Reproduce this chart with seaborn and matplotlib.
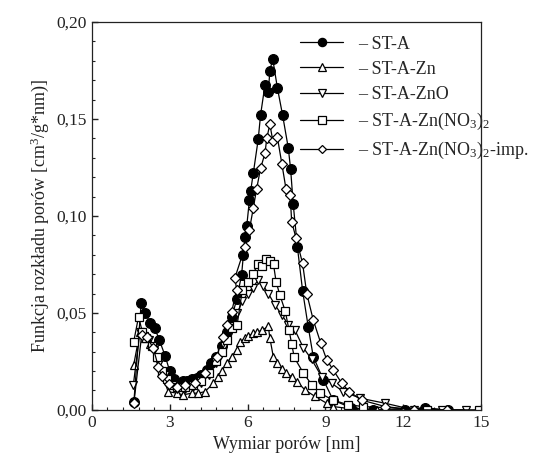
import matplotlib
matplotlib.use("Agg")
import matplotlib.pyplot as plt
import matplotlib.ticker as mticker
import seaborn as sns
import pandas as pd

# ---- data ----
sta_x = [1.62, 1.9, 2.06, 2.24, 2.43, 2.6, 2.82, 3.0, 3.15, 3.32, 3.5, 3.66, 3.85, 4.04, 4.22, 4.42, 4.6, 4.78, 5.0, 5.2, 5.4, 5.58, 5.77, 5.84, 5.9, 5.97, 6.07, 6.12, 6.22, 6.41, 6.5, 6.67, 6.8, 6.86, 6.97, 7.15, 7.35, 7.57, 7.66, 7.76, 7.92, 8.12, 8.34, 8.53, 8.92, 9.3, 10.0, 10.85, 12.07, 12.84, 13.73]
sta_y = [0.004, 0.055, 0.050, 0.045, 0.042, 0.036, 0.028, 0.020, 0.016, 0.014, 0.015, 0.015, 0.016, 0.0165, 0.018, 0.0206, 0.024, 0.0275, 0.033, 0.040, 0.048, 0.057, 0.0696, 0.080, 0.089, 0.095, 0.108, 0.113, 0.122, 0.1395, 0.152, 0.1675, 0.164, 0.175, 0.181, 0.166, 0.152, 0.135, 0.124, 0.106, 0.084, 0.0615, 0.0426, 0.0275, 0.0155, 0.005, 0.001, 0.0, 0.0, 0.001, 0.0]

zn_x = [1.61, 1.85, 2.05, 2.24, 2.5, 2.69, 2.94, 3.27, 3.52, 3.84, 4.1, 4.36, 4.68, 4.87, 5.0, 5.19, 5.39, 5.58, 5.71, 5.9, 6.03, 6.22, 6.35, 6.54, 6.8, 6.86, 6.99, 7.12, 7.32, 7.5, 7.7, 7.9, 8.21, 8.6, 9.05, 9.3, 10.0, 11.0, 12.0]
zn_y = [0.023, 0.040, 0.037, 0.034, 0.0275, 0.019, 0.0094, 0.0086, 0.0077, 0.0086, 0.0086, 0.0094, 0.0137, 0.017, 0.020, 0.024, 0.0275, 0.031, 0.035, 0.037, 0.038, 0.0395, 0.040, 0.041, 0.043, 0.037, 0.0275, 0.024, 0.021, 0.019, 0.017, 0.0146, 0.0103, 0.0069, 0.0034, 0.0017, 0.0005, 0.0, 0.0]

zno_x = [1.6, 1.85, 2.0, 2.2, 2.4, 2.6, 2.8, 3.0, 3.3, 3.6, 3.9, 4.2, 4.5, 4.8, 5.1, 5.4, 5.6, 5.8, 6.0, 6.2, 6.41, 6.61, 6.8, 7.06, 7.32, 7.57, 7.83, 8.15, 8.47, 8.86, 9.24, 9.69, 10.34, 11.3, 12.4, 13.5, 14.4]
zno_y = [0.013, 0.040, 0.038, 0.036, 0.031, 0.024, 0.018, 0.013, 0.011, 0.011, 0.012, 0.014, 0.018, 0.024, 0.033, 0.043, 0.050, 0.056, 0.060, 0.063, 0.067, 0.064, 0.060, 0.054, 0.049, 0.044, 0.041, 0.032, 0.026, 0.017, 0.0137, 0.0094, 0.006, 0.0034, 0.0, 0.0, 0.0]

no3_x = [1.61, 1.8, 1.95, 2.1, 2.3, 2.5, 2.7, 2.9, 3.1, 3.3, 3.6, 3.9, 4.2, 4.5, 4.8, 5.0, 5.2, 5.4, 5.6, 5.8, 6.0, 6.2, 6.4, 6.55, 6.7, 6.85, 7.0, 7.1, 7.25, 7.45, 7.6, 7.7, 7.8, 8.15, 8.47, 8.79, 9.3, 9.88, 10.46, 12.9, 14.9]
no3_y = [0.035, 0.048, 0.040, 0.037, 0.033, 0.027, 0.020, 0.016, 0.013, 0.012, 0.012, 0.013, 0.015, 0.019, 0.025, 0.030, 0.036, 0.042, 0.044, 0.062, 0.066, 0.070, 0.075, 0.074, 0.078, 0.077, 0.075, 0.066, 0.059, 0.051, 0.041, 0.034, 0.027, 0.019, 0.013, 0.0086, 0.005, 0.0026, 0.0017, 0.0, 0.0]

imp_x = [1.62, 1.92, 2.11, 2.37, 2.56, 2.69, 2.98, 3.27, 3.59, 3.97, 4.36, 4.81, 5.06, 5.19, 5.39, 5.58, 5.51, 5.9, 6.07, 6.22, 6.35, 6.5, 6.67, 6.74, 6.86, 6.97, 7.15, 7.32, 7.48, 7.64, 7.7, 7.87, 8.12, 8.28, 8.53, 8.82, 9.05, 9.3, 9.63, 9.92, 10.4, 11.3, 12.4, 13.68]
imp_y = [0.0035, 0.0387, 0.0378, 0.0318, 0.0223, 0.0172, 0.0134, 0.012, 0.0129, 0.0137, 0.019, 0.0275, 0.0378, 0.0438, 0.0507, 0.062, 0.068, 0.084, 0.0928, 0.104, 0.114, 0.1245, 0.1323, 0.140, 0.1474, 0.1389, 0.1405, 0.127, 0.114, 0.111, 0.097, 0.0885, 0.0756, 0.060, 0.0464, 0.0344, 0.0258, 0.0206, 0.0137, 0.0094, 0.005, 0.0017, 0.0, 0.0]

labels = ["– ST-A", "– ST-A-Zn", "– ST-A-ZnO",
          "– ST-A-Zn(NO$_3$)$_2$", "– ST-A-Zn(NO$_3$)$_2$-imp."]
x_ticks = [0, 3, 6, 9, 12, 15]
y_ticks = [0.00, 0.05, 0.10, 0.15, 0.20]

series = [
    (sta_x, sta_y, "o", "black"),
    (zn_x, zn_y, "^", "white"),
    (zno_x, zno_y, "v", "white"),
    (no3_x, no3_y, "s", "white"),
    (imp_x, imp_y, "D", "white"),
]

sns.set_style("ticks")
plt.rcParams["font.family"] = ["Liberation Serif", "DejaVu Serif"]
plt.rcParams["mathtext.fontset"] = "custom"
plt.rcParams["mathtext.rm"] = "Liberation Serif"
plt.rcParams["mathtext.it"] = "Liberation Serif:italic"

fig = plt.figure(figsize=(5.34, 4.70), dpi=100)
ax = fig.add_axes([0.172, 0.128, 0.729, 0.825])

handles = []
for (xs, ys, m, fc), lab in zip(series, labels):
    df = pd.DataFrame({"x": xs, "y": ys})
    msize = 7.0 if m == "o" else (5.2 if m == "D" else 6.2)
    sns.lineplot(data=df, x="x", y="y", sort=False, estimator=None, ax=ax,
                 color="black", lw=0.9, marker=m, markersize=msize,
                 markerfacecolor=fc, markeredgecolor="black", markeredgewidth=0.9,
                 label=lab, legend=False)
    handles.append(ax.lines[-1])

ax.set_xlim(0, 15)
ax.set_ylim(0, 0.20)
ax.set_xticks(x_ticks)
ax.set_yticks(y_ticks)
ax.xaxis.set_minor_locator(mticker.MultipleLocator(0.6))
ax.yaxis.set_minor_locator(mticker.MultipleLocator(0.01))
ax.yaxis.set_major_formatter(mticker.FuncFormatter(lambda v, p: f"{v:.2f}".replace(".", ",")))
ax.tick_params(which="both", direction="in", top=False, right=False, labelsize=12.5, colors="#222222")
ax.tick_params(which="major", length=4, width=1)
ax.tick_params(which="minor", length=2.5, width=0.8)
for s in ax.spines.values():
    s.set_linewidth(0.9)
    s.set_color("#222222")

ax.set_xlabel("Wymiar porów [nm]", fontsize=13, color="#222222")
ax.set_ylabel("Funkcja rozkładu porów [cm$^3$/g*nm)]", fontsize=13, color="#222222")

ax.legend(handles=handles, labels=labels, loc="upper left", frameon=False,
          fontsize=13, handlelength=2.4, handletextpad=0.8, borderpad=0,
          borderaxespad=0, labelspacing=0.45,
          bbox_to_anchor=(0.535, 0.965), markerscale=0.85)

fig.savefig("out.png", dpi=100)
